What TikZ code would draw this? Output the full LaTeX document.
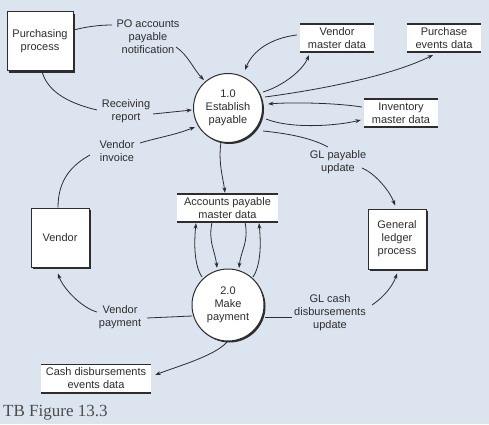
\documentclass[tikz,border=0pt]{standalone}
\usepackage{fontspec}
\setmainfont{Liberation Serif}
\newfontfamily\dfdfont{Liberation Sans}
\usetikzlibrary{arrows.meta,shadows}
\definecolor{bgc}{RGB}{220,228,240}
\definecolor{ink}{RGB}{45,45,45}
\begin{document}
\begin{tikzpicture}[x=1pt,y=1pt,
  every node/.style={font=\dfdfont\fontsize{11}{13}\selectfont, text=ink, align=center},
  ext/.style={draw=ink, fill=white, line width=1pt, inner sep=0pt,
    general shadow={fill=ink, shadow xshift=2pt, shadow yshift=-2pt}},
  proc/.style={circle, draw=ink, fill=white, line width=1pt, inner sep=0pt,
    general shadow={fill=ink, shadow xshift=1.5pt, shadow yshift=-1.5pt}},
  store/.style={fill=white, inner sep=0pt},
  storeline/.style={draw=ink, line width=1.6pt},
  lab/.style={inner sep=0pt},
  flow/.style={draw=ink, line width=0.8pt, -{Stealth[length=5.5pt,width=4pt]}},
  seg/.style={draw=ink, line width=0.8pt}
]
\useasboundingbox (0,0) rectangle (489,424);
\fill[bgc] (0,0) rectangle (489,424);

% processes
\node[proc, minimum size=69pt] (c1) at (228,316) {1.0\\Establish\\payable};
\node[proc, minimum size=72pt] (c2) at (228,119) {2.0\\Make\\payment};

% external entities
\node[ext, minimum width=66pt, minimum height=59pt] (pp) at (40,382.5) {Purchasing\\process};
\node[ext, minimum width=58pt, minimum height=59pt] (vd) at (60,186.5) {Vendor};
\node[ext, minimum width=58pt, minimum height=60pt] (gl) at (397,185) {General\\ledger\\process};

% data stores
\node[store, minimum width=74pt, minimum height=28pt] (vm) at (337,386) {Vendor\\master data};
\node[store, minimum width=74pt, minimum height=28pt] (pe) at (444,386) {Purchase\\events data};
\node[store, minimum width=74pt, minimum height=28pt] (im) at (401,311) {Inventory\\master data};
\node[store, minimum width=101pt, minimum height=28pt] (ap) at (227.5,216) {Accounts payable\\master data};
\node[store, minimum width=110pt, minimum height=28pt] (cd) at (96,45.5) {Cash disbursements\\events data};
\foreach \n in {vm,pe,im,ap,cd}{
  \draw[storeline] (\n.north west) -- (\n.north east) (\n.south west) -- (\n.south east);
}

% flow labels
\node[lab] (l1) at (148,387) {PO accounts\\payable\\notification};
\node[lab] (l2) at (126,313) {Receiving\\report};
\node[lab] (l3) at (117,273) {Vendor\\invoice};
\node[lab] (l4) at (338,262) {GL payable\\update};
\node[lab] (l5) at (120,107) {Vendor\\payment};
\node[lab] (l6) at (330,111) {GL cash\\disbursements\\update};

% caption
\node[anchor=base west, inner sep=0pt, font=\rmfamily\fontsize{17}{20}\selectfont, text=black!70] (cap) at (3,8) {TB Figure 13.3};

% flows
\draw[seg] ([yshift=11.5pt]pp.east) .. controls +(12,3) and +(-14,0) .. ([shift={(-36,12)}]l1.center);
\draw[flow] ([shift={(28,-10)}]l1.center) .. controls +(12,-8) and +(-10,10) .. ([shift={(-24,28)}]c1.center);

\draw[seg] ([xshift=2pt]pp.south) .. controls +(6,-22) and +(-25,6) .. ([shift={(-29,1)}]l2.center);
\draw[flow] ([shift={(27,-3)}]l2.center) -- ([shift={(-36,-2)}]c1.center);

\draw[seg] ([xshift=-2pt]vd.north) .. controls +(0,28) and +(-18,-10) .. ([shift={(-27,-4)}]l3.center);
\draw[flow] ([shift={(23,8)}]l3.center) .. controls +(20,6) and +(-20,-8) .. ([shift={(-33,-19)}]c1.center);

\draw[flow] ([shift={(-3,3)}]vm.west) .. controls +(-25,-3) and +(8,20) .. ([shift={(17,38)}]c1.center);
\draw[flow] ([shift={(35,16)}]c1.center) .. controls +(20,6) and +(-6,-15) .. ([shift={(-28,-17)}]vm.center);
\draw[flow] ([shift={(37,11)}]c1.center) .. controls +(60,8) and +(-40,-20) .. ([shift={(-11,-17)}]pe.center);

\draw[flow] ([shift={(-2,6)}]im.west) .. controls +(-25,4) and +(25,2) .. ([shift={(40,4)}]c1.center);
\draw[flow] ([shift={(38,-11)}]c1.center) .. controls +(25,-10) and +(-25,-6) .. ([shift={(-3,-7)}]im.west);

\draw[seg] ([shift={(35,-23)}]c1.center) .. controls +(30,-3) and +(-15,8) .. ([shift={(-10,15)}]l4.center);
\draw[flow] ([shift={(24,-6)}]l4.center) .. controls +(14,-6) and +(-5,14) .. ([shift={(-2,3)}]gl.north);

\draw[flow] ([shift={(-7,-34)}]c1.center) .. controls +(-3,-20) and +(-2,15) .. ([shift={(-2.5,1)}]ap.north);

\draw[flow] ([shift={(-26,28)}]c2.center) .. controls +(-8,12) and +(-2,-20) .. ([shift={(-31.5,-1)}]ap.south);
\draw[flow] ([xshift=-15.5pt]ap.south) .. controls +(-4,-20) and +(-2,18) .. ([shift={(-11,37)}]c2.center);
\draw[flow] ([xshift=17.5pt]ap.south) .. controls +(4,-20) and +(2,18) .. ([shift={(11,37)}]c2.center);
\draw[flow] ([shift={(25,28)}]c2.center) .. controls +(8,12) and +(2,-20) .. ([shift={(31.5,-1)}]ap.south);

\draw[seg] ([shift={(-36,-11)}]c2.center) -- ([shift={(27,-1)}]l5.center);
\draw[flow] ([shift={(-23,5)}]l5.center) .. controls +(-15,4) and +(5,-15) .. ([shift={(-2,-6)}]vd.south);

\draw[flow] ([shift={(-1,-37)}]c2.center) .. controls +(-12,-14) and +(20,8) .. ([shift={(4,3.5)}]cd.east);

\draw[seg] ([shift={(37,-12)}]c2.center) -- ([shift={(-38,-4)}]l6.center);
\draw[flow] ([shift={(42,8)}]l6.center) .. controls +(12,8) and +(-4,-12) .. ([shift={(0,-4)}]gl.south);
\end{tikzpicture}
\end{document}
